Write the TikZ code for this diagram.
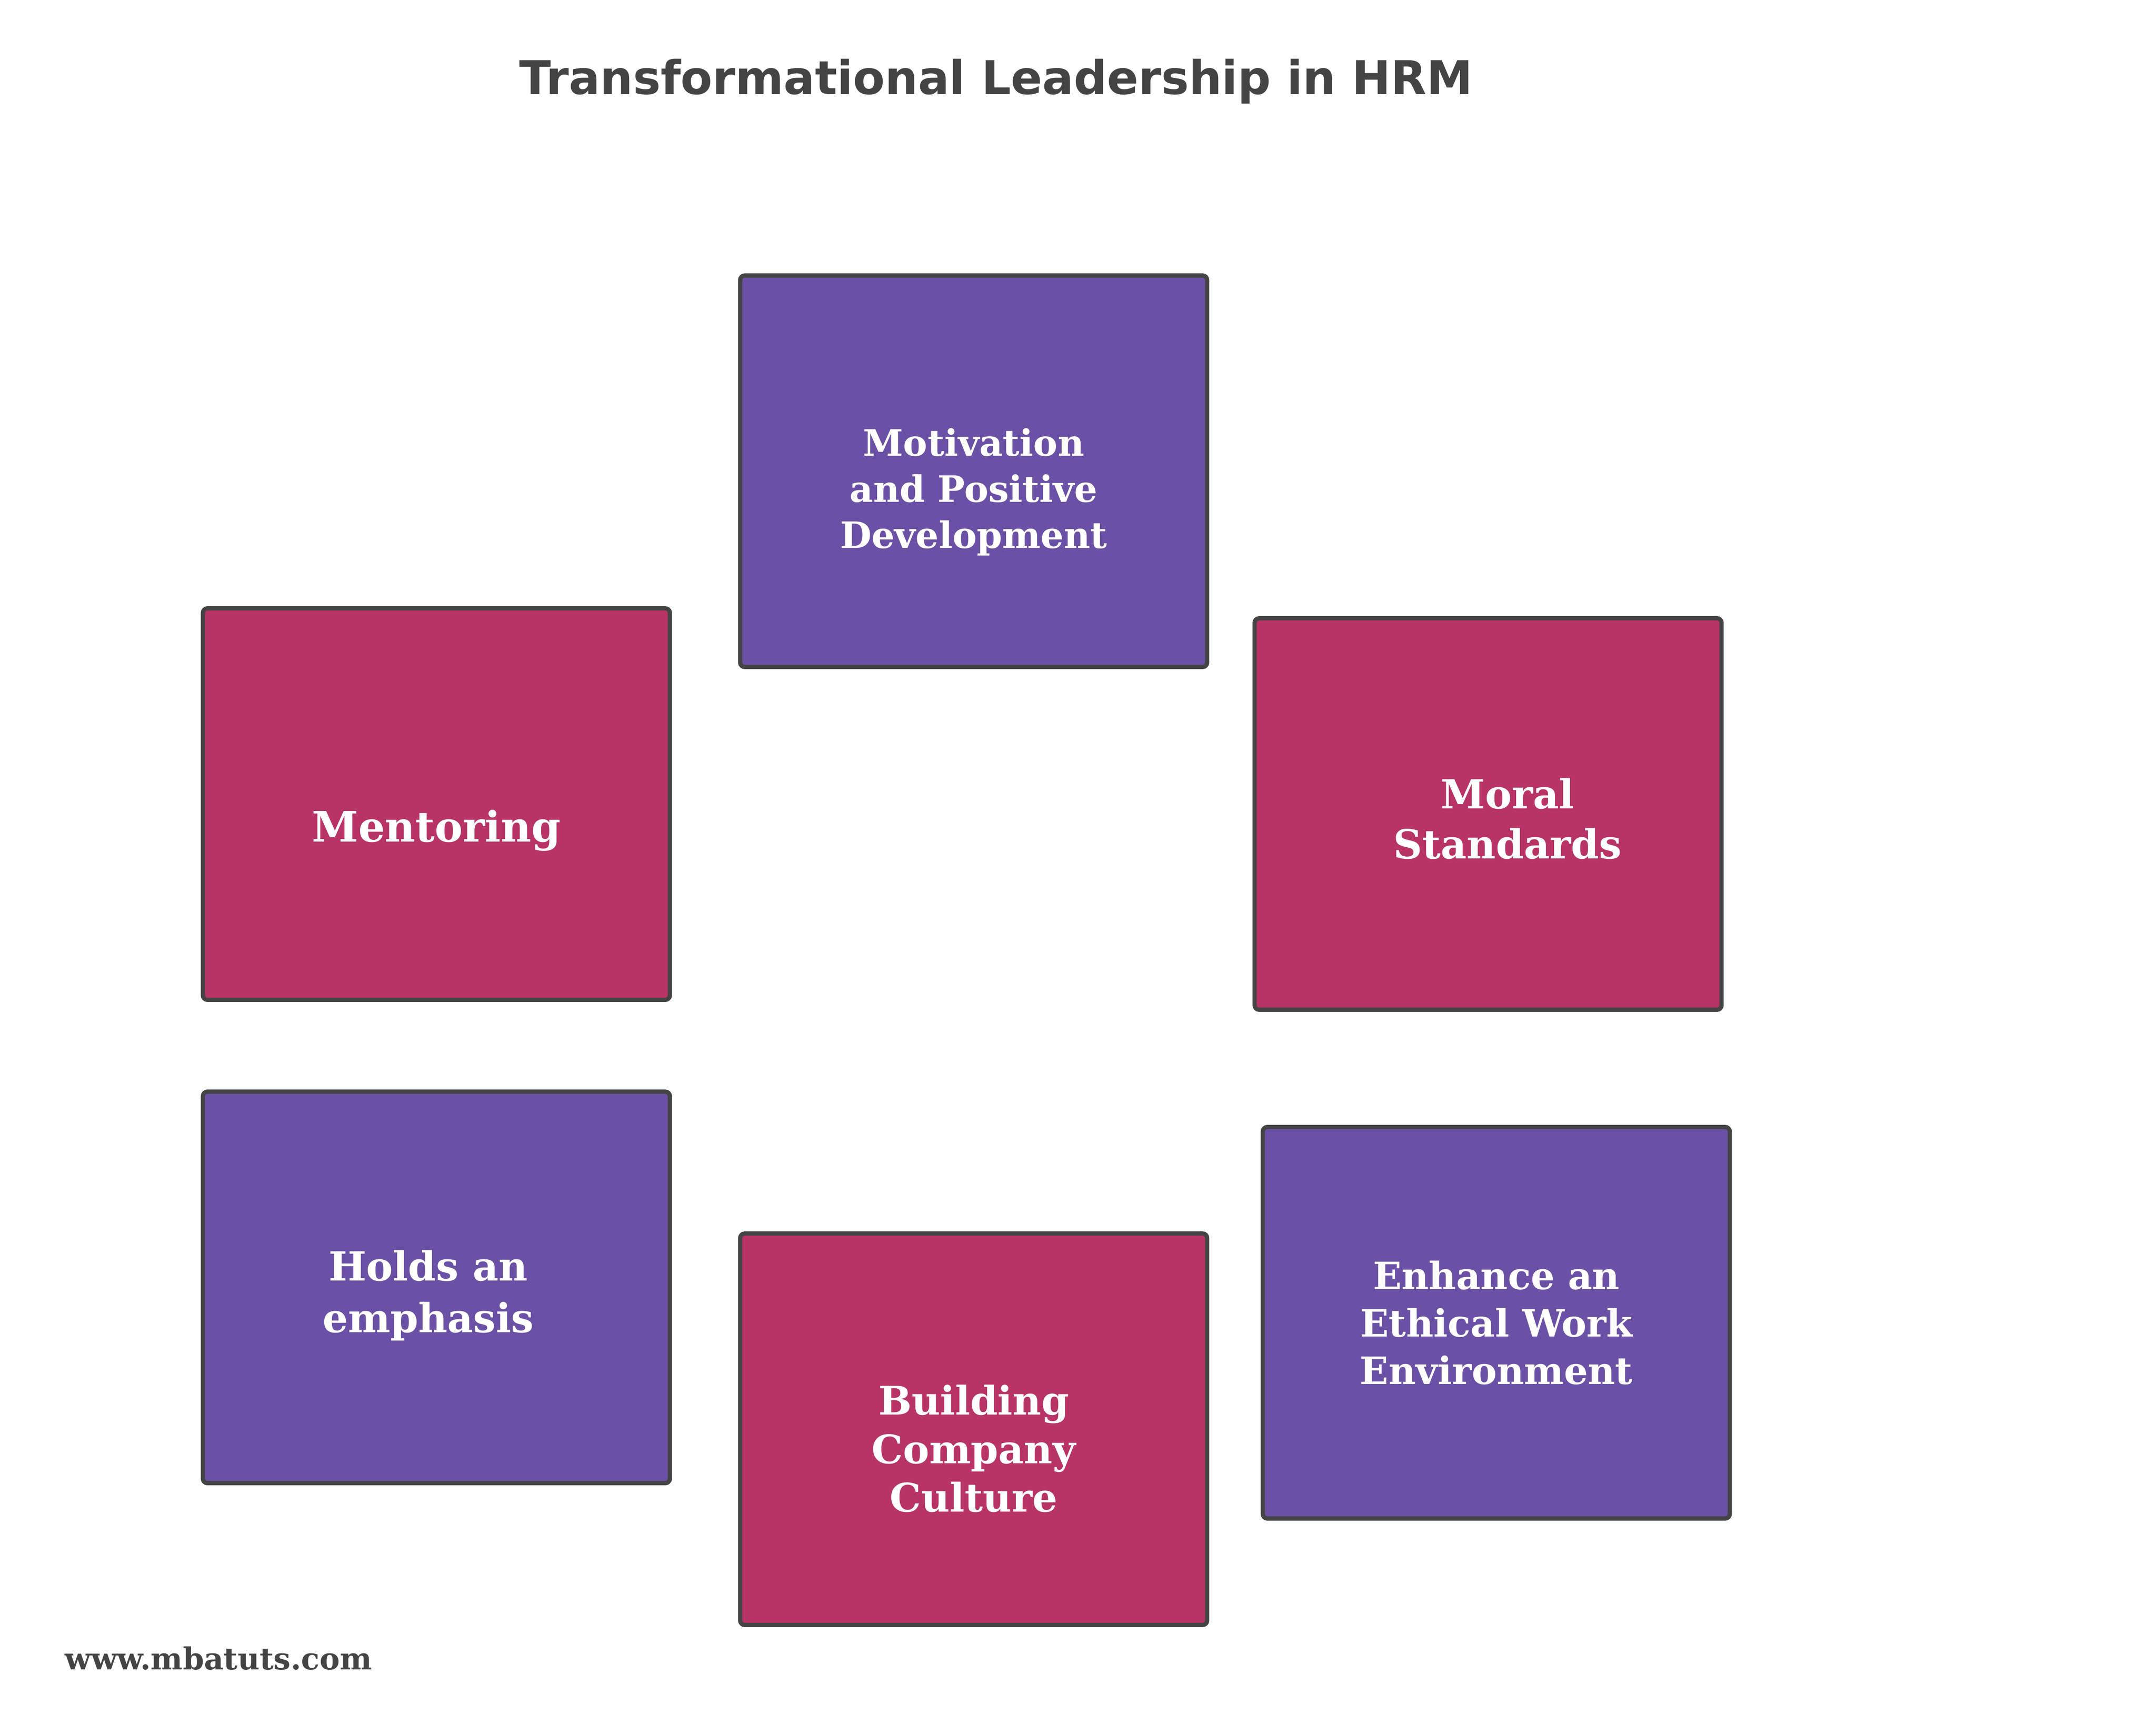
\documentclass[tikz,border=0pt]{standalone}
\usepackage{fontspec}
\setmainfont{DejaVu Serif}
\newfontfamily\titlefont{DejaVu Sans}
\usepackage{tikz}

\definecolor{hrmpurple}{HTML}{6B51A6}
\definecolor{hrmred}{HTML}{B83366}
\definecolor{hrmgray}{HTML}{444444}

\begin{document}
\begin{tikzpicture}[
  card/.style={rectangle, draw=hrmgray, line width=2.8pt, rounded corners=3pt,
    minimum width=10.83cm, minimum height=9.08cm},
  cardtext/.style n args={2}{align=center, text=white,
    font=\fontsize{#1}{#2}\selectfont\bfseries}
]
  \useasboundingbox[fill=white] (0,0) rectangle (50,-40);

  \node[font=\titlefont\fontsize{30.6}{36}\selectfont\bfseries, text=hrmgray, anchor=base] (title) at (23.1,-2.18) {Transformational Leadership in HRM};

  \node[card, fill=hrmpurple] (motiv) at (22.58,-10.93) {};
  \node[card, fill=hrmred] (mentor) at (10.12,-18.65) {};
  \node[card, fill=hrmred] (moral) at (34.51,-18.88) {};
  \node[card, fill=hrmpurple] (holds) at (10.12,-29.86) {};
  \node[card, fill=hrmred] (culture) at (22.58,-33.15) {};
  \node[card, fill=hrmpurple] (ethic) at (34.70,-30.68) {};

  \node[cardtext={24}{30.5}] (motiv-t) at ([yshift=-0.48cm]motiv.center) {Motivation\\and Positive\\Development};
  \node[cardtext={27.7}{34}] (mentor-t) at ([yshift=-0.61cm]mentor.center) {Mentoring};
  \node[cardtext={26.4}{33}] (moral-t) at ([xshift=0.45cm,yshift=-0.11cm]moral.center) {Moral\\Standards};
  \node[cardtext={26.4}{34}] (holds-t) at ([xshift=-0.19cm,yshift=-0.19cm]holds.center) {Holds an\\emphasis};
  \node[cardtext={26}{32}] (culture-t) at ([yshift=-0.45cm]culture.center) {Building\\Company\\Culture};
  \node[cardtext={24.8}{31.4}] (ethic-t) at (ethic.center) {Enhance an\\Ethical Work\\Environment};

  % source line
  \node[font=\fontsize{20}{24}\selectfont\bfseries, text=hrmgray, anchor=base west, inner sep=0pt] (src) at (1.5,-38.72) {www.mbatuts.com};
\end{tikzpicture}
\end{document}
